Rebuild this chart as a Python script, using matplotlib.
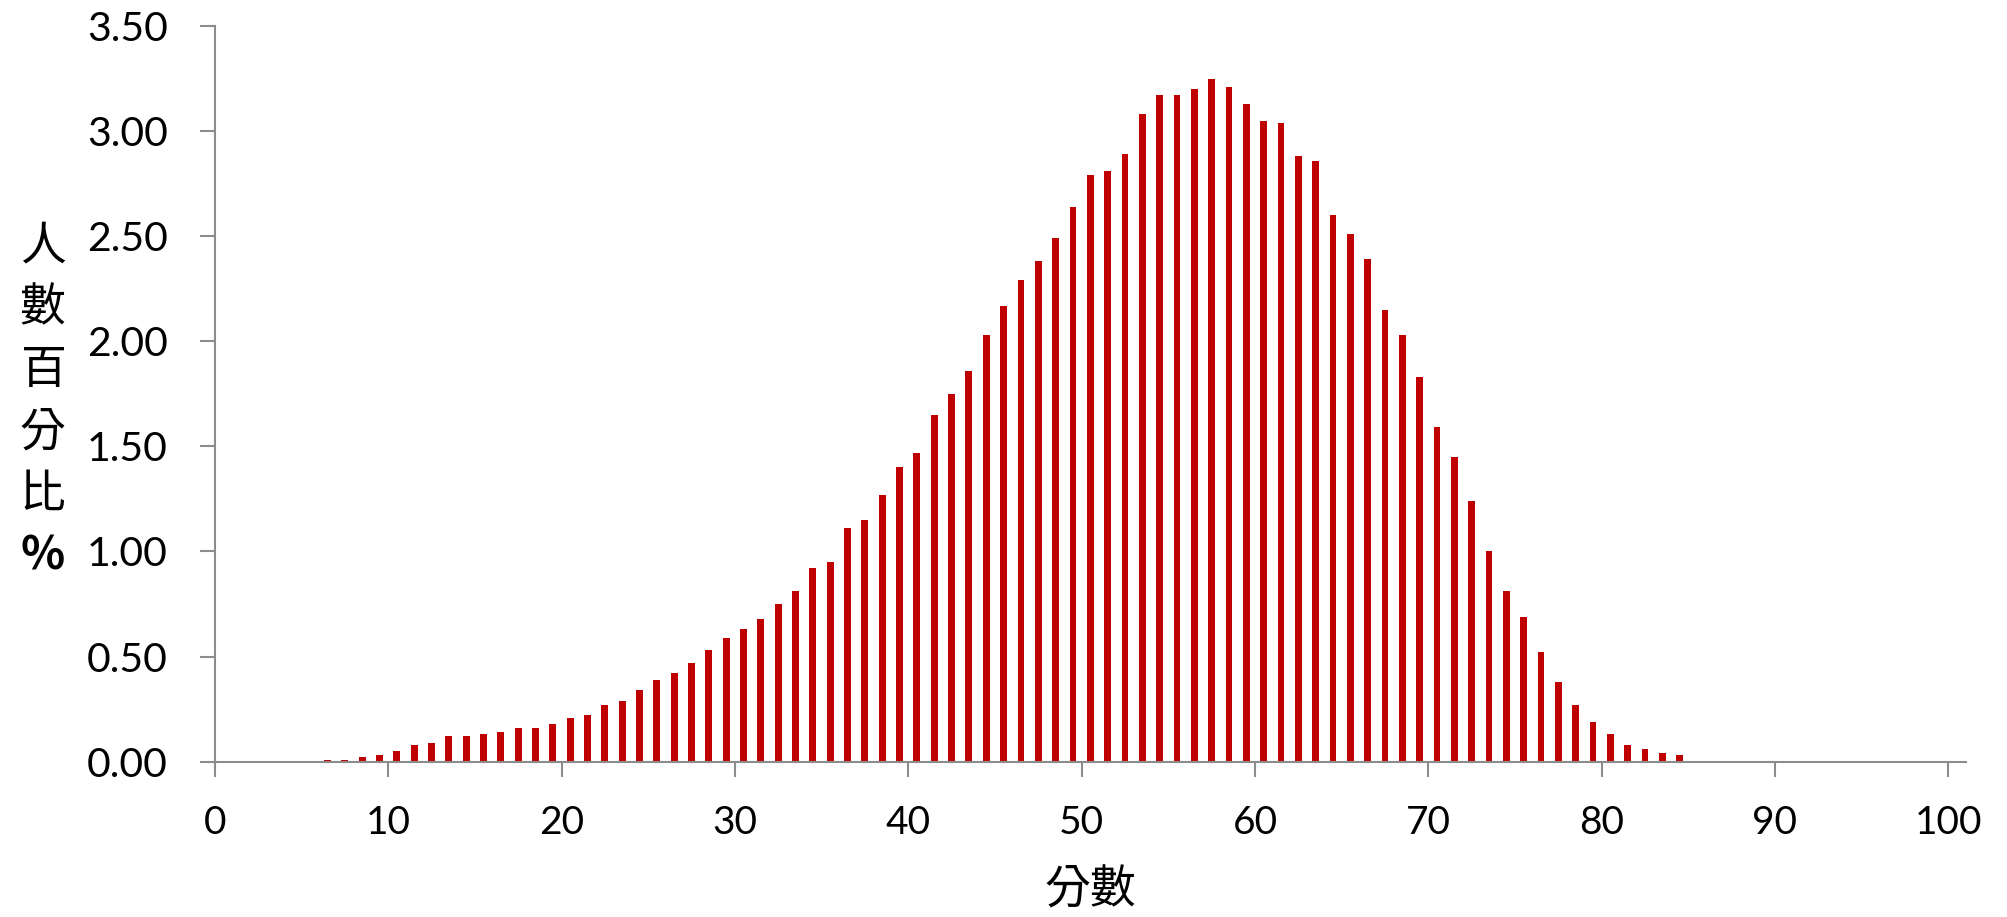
import matplotlib
matplotlib.use("Agg")
import matplotlib.pyplot as plt
from matplotlib.ticker import FormatStrFormatter

# score bins (bar centres sit half a point right of the integer score)
score_start = 6
pct = [0.01, 0.01, 0.02, 0.03, 0.05, 0.08, 0.09, 0.12, 0.12, 0.13,
       0.14, 0.16, 0.16, 0.18, 0.21, 0.22, 0.27, 0.29, 0.34, 0.39,
       0.42, 0.47, 0.53, 0.59, 0.63, 0.68, 0.75, 0.81, 0.92, 0.95,
       1.11, 1.15, 1.27, 1.40, 1.47, 1.65, 1.75, 1.86, 2.03, 2.17,
       2.29, 2.38, 2.49, 2.64, 2.79, 2.81, 2.89, 3.08, 3.17, 3.17,
       3.20, 3.25, 3.21, 3.13, 3.05, 3.04, 2.88, 2.86, 2.60, 2.51,
       2.39, 2.15, 2.03, 1.83, 1.59, 1.45, 1.24, 1.00, 0.81, 0.69,
       0.52, 0.38, 0.27, 0.19, 0.13, 0.08, 0.06, 0.04, 0.03]
scores = [score_start + i + 0.5 for i in range(len(pct))]

x_ticks = [0, 10, 20, 30, 40, 50, 60, 70, 80, 90, 100]
y_ticks = [0, 0.5, 1.0, 1.5, 2.0, 2.5, 3.0, 3.5]
ylabel_chars = ["人", "數", "百", "分", "比", "%"]
xlabel = "分數"

BAR = "#C00000"
AXC = "#8C8C8C"
CJK = ["Noto Sans CJK TC", "DejaVu Sans"]

fig = plt.figure(figsize=(20.07, 9.17), dpi=100)
ax = fig.add_axes([0.1071, 0.1694, 0.8723, 0.8022])

ax.bar(scores, pct, width=0.4, color=BAR, linewidth=0)

ax.set_xlim(0, 101)
ax.set_ylim(0, 3.5)
ax.set_xticks(x_ticks)
ax.set_yticks(y_ticks)
ax.yaxis.set_major_formatter(FormatStrFormatter("%.2f"))

for s in ["top", "right"]:
    ax.spines[s].set_visible(False)
for s in ["left", "bottom"]:
    ax.spines[s].set_color(AXC)
    ax.spines[s].set_linewidth(1.5)

ax.tick_params(axis="both", direction="out", length=11, width=1.5, color=AXC,
               labelcolor="black")
ax.tick_params(axis="y", pad=23, labelsize=29.5)
ax.tick_params(axis="x", pad=20, labelsize=28)
for lab in ax.get_xticklabels() + ax.get_yticklabels():
    lab.set_fontfamily("Lato")

# stacked vertical y label
y0 = 1 - 246 / 917
step = 62 / 917
for i, ch in enumerate(ylabel_chars):
    fig.text(0.0212, y0 - i * step, ch, ha="center", va="center", fontsize=33,
             family=CJK, fontweight="bold" if ch == "%" else "normal")

fig.text(0.543, 1 - 890 / 917, xlabel, ha="center", va="center", fontsize=33,
         family=CJK)

fig.savefig("out.png", dpi=100)
